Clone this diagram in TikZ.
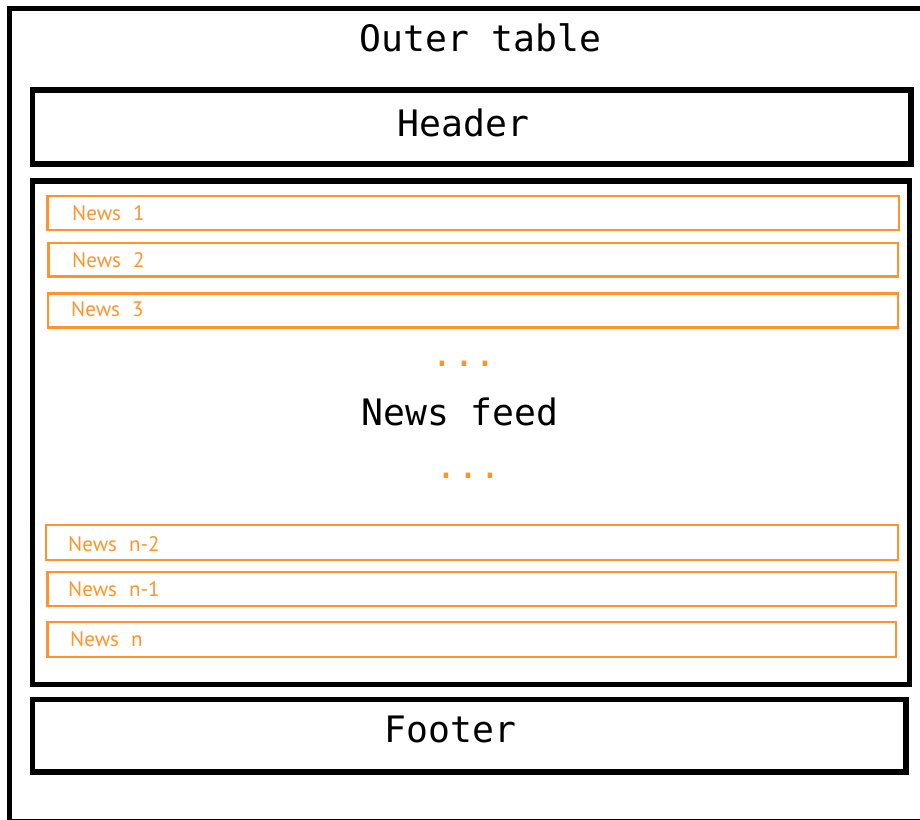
\documentclass[tikz,border=0pt]{standalone}
\usepackage{fontspec}
\usetikzlibrary{fit}
\newfontfamily\monof{DejaVu Sans Mono}
\newfontfamily\newsf{PT Sans}
\definecolor{ora}{RGB}{255,148,45}
\newcommand{\ngap}{\hspace{12pt}}
\begin{document}
\begin{tikzpicture}[x=1pt,y=-1pt,
  blk/.style={draw=black,line width=5.5pt,inner sep=0pt},
  orb/.style={draw=ora,line width=2.6pt,inner sep=0pt},
  big/.style={font=\monof\fontsize{36.4}{40}\selectfont,inner sep=0pt,anchor=base},
  sml/.style={font=\newsf\fontsize{21}{24}\selectfont,text=ora,inner sep=0pt,anchor=base west}]
\useasboundingbox (0,0) rectangle (920,819);
\fill[white] (0,0) rectangle (920,819);
\clip (0,0) rectangle (920,819);
% outer table
\node[blk,fit={(9.5,8.5) (930,822)}] (outer) {};
\node[blk,fit={(32.5,90) (911,164)}] (header) {};
\node[blk,fit={(32.5,181) (909.5,684.5)}] (feed) {};
\node[blk,fit={(32.5,699.5) (906,772)}] (footer) {};
% news boxes
\node[orb,fit={(47.5,196) (899,230)}] (n1) {};
\node[orb,fit={(48.5,243) (898,276.5)}] (n2) {};
\node[orb,fit={(48,293.5) (898,327.5)}] (n3) {};
\node[orb,fit={(46,525) (898,560)}] (nm2) {};
\node[orb,fit={(47.5,572) (896,606)}] (nm1) {};
\node[orb,fit={(47.5,622) (896,657)}] (nn) {};
% labels
\node[big] (ttl) at (480.5,51) {Outer table};
\node[big] (hdr) at (463.5,136.7) {Header};
\node[big] (nf) at (460,425) {News feed};
\node[big] (ftr) at (450.5,742) {Footer};
\node[big,text=ora] (d1) at (464,366.5) {...};
\node[big,text=ora] (d2) at (468.7,478.5) {...};
\node[sml] (t1) at (72,220) {News\ngap 1};
\node[sml] (t2) at (72,267) {News\ngap 2};
\node[sml] (t3) at (71,316.7) {News\ngap 3};
\node[sml] (tm2) at (68,551) {News\ngap n-2};
\node[sml] (tm1) at (68,596) {News\ngap n-1};
\node[sml] (tn) at (70,646.7) {News\ngap n};
\end{tikzpicture}
\end{document}
